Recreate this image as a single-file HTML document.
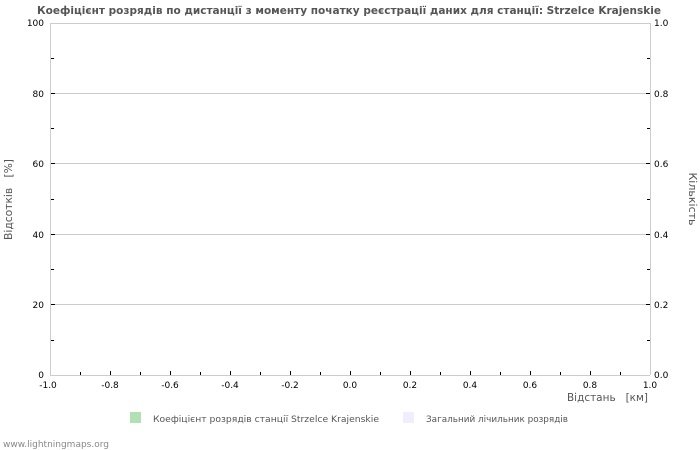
<!DOCTYPE html>
<html><head><meta charset="utf-8"><style>
body{margin:0;background:#fff;}
svg{display:block;font-family:"DejaVu Sans","Liberation Sans",sans-serif;}
text{white-space:pre;}
</style></head><body>
<svg width="700" height="450" viewBox="0 0 700 450" xmlns="http://www.w3.org/2000/svg">
<rect width="700" height="450" fill="#fff"/>
<text x="37" y="14" font-size="11" font-weight="bold" fill="#555" textLength="624" lengthAdjust="spacingAndGlyphs">Коефіцієнт розрядів по дистанції з моменту початку реєстрації даних для станції: Strzelce Krajenskie</text>
<g stroke="#ccc" stroke-width="1">
<line x1="50" y1="23.5" x2="650" y2="23.5"/>
<line x1="50" y1="93.5" x2="650" y2="93.5"/>
<line x1="50" y1="163.5" x2="650" y2="163.5"/>
<line x1="50" y1="234.5" x2="650" y2="234.5"/>
<line x1="50" y1="304.5" x2="650" y2="304.5"/>
<line x1="50" y1="375.5" x2="650" y2="375.5"/>
<line x1="50.5" y1="23" x2="50.5" y2="375"/>
<line x1="650.5" y1="23" x2="650.5" y2="375"/>
</g>
<g stroke="#000" stroke-width="1">
<line x1="51" y1="58.5" x2="54" y2="58.5"/><line x1="51" y1="93.5" x2="55" y2="93.5"/>
<line x1="51" y1="128.5" x2="54" y2="128.5"/><line x1="51" y1="163.5" x2="55" y2="163.5"/>
<line x1="51" y1="199.5" x2="54" y2="199.5"/><line x1="51" y1="234.5" x2="55" y2="234.5"/>
<line x1="51" y1="269.5" x2="54" y2="269.5"/><line x1="51" y1="304.5" x2="55" y2="304.5"/>
<line x1="51" y1="340.5" x2="54" y2="340.5"/>
<line x1="650" y1="58.5" x2="647" y2="58.5"/><line x1="650" y1="93.5" x2="646" y2="93.5"/>
<line x1="650" y1="128.5" x2="647" y2="128.5"/><line x1="650" y1="163.5" x2="646" y2="163.5"/>
<line x1="650" y1="199.5" x2="647" y2="199.5"/><line x1="650" y1="234.5" x2="646" y2="234.5"/>
<line x1="650" y1="269.5" x2="647" y2="269.5"/><line x1="650" y1="304.5" x2="646" y2="304.5"/>
<line x1="650" y1="340.5" x2="647" y2="340.5"/>
<line x1="80.5" y1="375" x2="80.5" y2="372"/><line x1="110.5" y1="375" x2="110.5" y2="371"/>
<line x1="140.5" y1="375" x2="140.5" y2="372"/><line x1="170.5" y1="375" x2="170.5" y2="371"/>
<line x1="200.5" y1="375" x2="200.5" y2="372"/><line x1="230.5" y1="375" x2="230.5" y2="371"/>
<line x1="260.5" y1="375" x2="260.5" y2="372"/><line x1="290.5" y1="375" x2="290.5" y2="371"/>
<line x1="320.5" y1="375" x2="320.5" y2="372"/><line x1="350.5" y1="375" x2="350.5" y2="371"/>
<line x1="380.5" y1="375" x2="380.5" y2="372"/><line x1="410.5" y1="375" x2="410.5" y2="371"/>
<line x1="440.5" y1="375" x2="440.5" y2="372"/><line x1="470.5" y1="375" x2="470.5" y2="371"/>
<line x1="500.5" y1="375" x2="500.5" y2="372"/><line x1="530.5" y1="375" x2="530.5" y2="371"/>
<line x1="560.5" y1="375" x2="560.5" y2="372"/><line x1="590.5" y1="375" x2="590.5" y2="371"/>
<line x1="620.5" y1="375" x2="620.5" y2="372"/>
</g>
<g font-size="9" fill="#000" text-anchor="end">
<text x="44" y="26">100</text><text x="44" y="97">80</text><text x="44" y="167">60</text>
<text x="44" y="238">40</text><text x="44" y="308">20</text><text x="44" y="378">0</text>
</g>
<g font-size="9" fill="#000" text-anchor="start">
<text x="654" y="26">1.0</text><text x="654" y="97">0.8</text><text x="654" y="167">0.6</text>
<text x="654" y="238">0.4</text><text x="654" y="308">0.2</text><text x="654" y="378">0.0</text>
</g>
<g font-size="9" fill="#000" text-anchor="middle">
<text x="48" y="388">-1.0</text><text x="110" y="388">-0.8</text><text x="170" y="388">-0.6</text>
<text x="230" y="388">-0.4</text><text x="290" y="388">-0.2</text><text x="350" y="388">0.0</text>
<text x="410" y="388">0.2</text><text x="470" y="388">0.4</text><text x="530" y="388">0.6</text>
<text x="590" y="388">0.8</text><text x="650" y="388">1.0</text>
</g>
<text x="567" y="401" font-size="11" fill="#555" textLength="81" lengthAdjust="spacingAndGlyphs">Відстань   [км]</text>
<text transform="translate(12,240) rotate(-90)" font-size="11" fill="#555" textLength="81" lengthAdjust="spacingAndGlyphs">Відсотків   [%]</text>
<text transform="translate(689,199) rotate(90)" font-size="11" fill="#555" text-anchor="middle">Кількість</text>
<rect x="130" y="412" width="11" height="11" fill="#b3e0b3"/>
<text x="153" y="422" font-size="9" fill="#555" textLength="226" lengthAdjust="spacingAndGlyphs">Коефіцієнт розрядів станції Strzelce Krajenskie</text>
<rect x="403" y="412" width="11" height="11" fill="#eeeeff"/>
<text x="426" y="422" font-size="9" fill="#555" textLength="142" lengthAdjust="spacingAndGlyphs">Загальний лічильник розрядів</text>
<text x="3" y="447" font-size="9" fill="#888">www.lightningmaps.org</text>
</svg>
</body></html>
